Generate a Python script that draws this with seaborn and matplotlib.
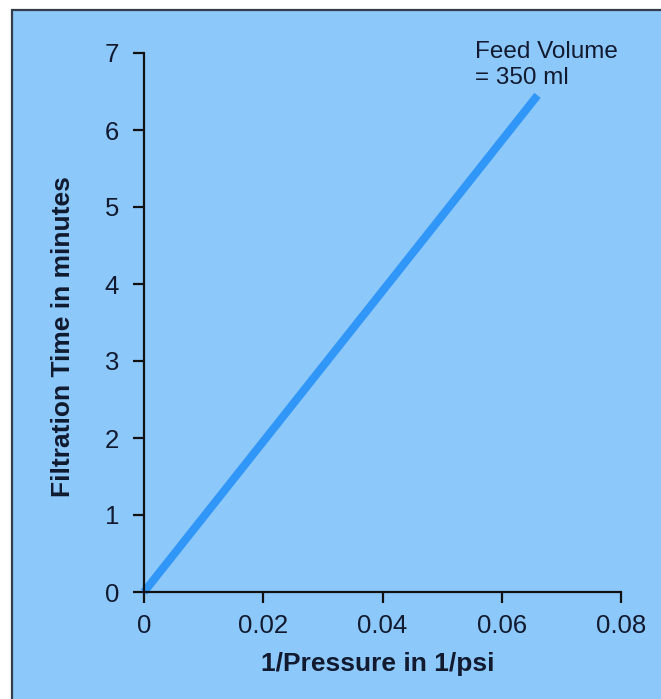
import matplotlib
matplotlib.use("Agg")
import matplotlib.pyplot as plt
import pandas as pd
import seaborn as sns
from matplotlib.patches import Rectangle

# data
inv_pressure = [0.0, 0.066]
filtration_time = [0.0, 6.45]
x_ticks = [0, 0.02, 0.04, 0.06, 0.08]
x_tick_labels = ["0", "0.02", "0.04", "0.06", "0.08"]
y_ticks = [0, 1, 2, 3, 4, 5, 6, 7]
note = "Feed Volume\n= 350 ml"

bg = "#8DC8FB"
line_color = "#3096F7"
ink = "#111A2E"

sns.set_theme(style="ticks")
plt.rcParams["font.family"] = ["Liberation Sans", "DejaVu Sans"]

df = pd.DataFrame({"x": inv_pressure, "y": filtration_time})

fig = plt.figure(figsize=(6.61, 6.99), dpi=100, facecolor="white")
W, H = 661, 699
frame = Rectangle((12 / W, -0.01), 1.02, (H - 10) / H + 0.01,
                  transform=fig.transFigure, facecolor=bg,
                  edgecolor="#333D4A", linewidth=1.6, zorder=-5)
fig.add_artist(frame)

ax = fig.add_axes([144 / W, 107 / H, 477 / W, 539 / H])
ax.set_facecolor("none")

sns.lineplot(data=df, x="x", y="y", ax=ax, color=line_color, linewidth=5.8,
             solid_capstyle="butt", clip_on=False)

ax.set_xlim(0, 0.08)
ax.set_ylim(0, 7)
ax.set_xticks(x_ticks)
ax.set_xticklabels(x_tick_labels)
ax.set_yticks(y_ticks)

sns.despine(ax=ax)
for side in ("left", "bottom"):
    ax.spines[side].set_color("#111111")
    ax.spines[side].set_linewidth(1.6)
ax.tick_params(axis="both", direction="out", length=8, width=1.6,
               color="#111111", labelsize=18.5, labelcolor=ink)
ax.tick_params(axis="y", pad=10)
ax.tick_params(axis="x", pad=8)

ax.set_xlabel("1/Pressure in 1/psi", fontsize=19, fontweight="bold",
              color=ink, va="center")
ax.set_ylabel("Filtration Time in minutes", fontsize=19, fontweight="bold",
              color=ink, va="center")
ax.xaxis.set_label_coords(0.49, -0.134)
ax.yaxis.set_label_coords(-0.17, 0.474)

ax.text(0.694, 1.022, note, transform=ax.transAxes, fontsize=17.5,
        color=ink, ha="left", va="top", linespacing=1.2)

fig.savefig("out.png", dpi=100, facecolor="white")
